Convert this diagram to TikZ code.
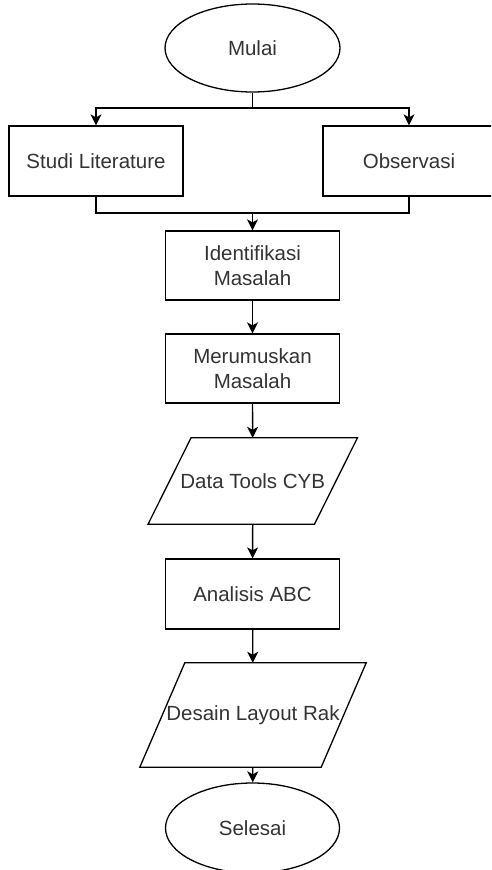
\documentclass[tikz,border=0pt]{standalone}
\usepackage{fontspec}
\setmainfont{Liberation Sans}
\usetikzlibrary{shapes.geometric,arrows.meta}

\begin{document}
\begin{tikzpicture}[x=1pt,y=-1pt,
		font=\fontsize{20.5}{25}\selectfont,
		line/.style={line width=1.3pt},
		arrow/.style={line width=1.3pt,-{Stealth[length=11pt,width=11pt,inset=3pt]}},
		terminal/.style={draw,ellipse,line width=1.3pt,text=black!80,minimum width=175pt,minimum height=88pt,inner sep=0pt},
		process/.style={draw,rectangle,line width=1.3pt,text=black!80,minimum width=174pt,minimum height=70pt,align=center,inner sep=0pt},
		inout/.style={rectangle,text=black!80,inner sep=0pt}]
		\clip (0,0) rectangle (491,870);
		\node[terminal] (mulai) at (252.5,48) {Mulai};
		\node[process] (studi) at (96,161) {Studi Literature};
		\node[process,minimum width=172pt] (observasi) at (409,161) {Observasi};
		\node[process,minimum height=69pt] (identifikasi) at (252.5,265.5) {Identifikasi\\Masalah};
		\node[process,minimum height=69pt] (merumuskan) at (252.5,368.5) {Merumuskan\\Masalah};
		\node[inout,minimum width=166pt,minimum height=86pt] (datatools) at (252.75,481) {Data Tools CYB};
		\node[process] (analisis) at (252.5,594) {Analisis ABC};
		\node[inout,minimum width=181pt,minimum height=104pt] (desain) at (253,715) {Desain Layout Rak};
		\node[terminal,minimum width=174pt,minimum height=90pt] (selesai) at (252.5,828) {Selesai};
		% parallelogram outlines
		\draw[line] ([xshift=21.5pt]datatools.north west) -- ([xshift=21.5pt]datatools.north east)
			-- ([xshift=-21.5pt]datatools.south east) -- ([xshift=-21.5pt]datatools.south west) -- cycle;
		\draw[line] ([xshift=22.5pt]desain.north west) -- ([xshift=22.5pt]desain.north east)
			-- ([xshift=-22.5pt]desain.south east) -- ([xshift=-22.5pt]desain.south west) -- cycle;
		% branch and merge
		\coordinate (split) at (252.5,108);
		\coordinate (merge) at (252.5,213);
		\draw[line] (mulai) -- (split);
		\draw[arrow] (split) -| (studi);
		\draw[arrow] (split) -| (observasi);
		\draw[line] (studi) |- (merge);
		\draw[line] (observasi) |- (merge);
		\draw[arrow] (merge) -- (identifikasi);
		% main flow
		\draw[arrow] (identifikasi) -- (merumuskan);
		\draw[arrow] (merumuskan) -- (datatools);
		\draw[arrow] (datatools) -- (analisis);
		\draw[arrow] (analisis) -- (desain);
		\draw[arrow] (desain) -- (selesai);
	\end{tikzpicture}
\end{document}
